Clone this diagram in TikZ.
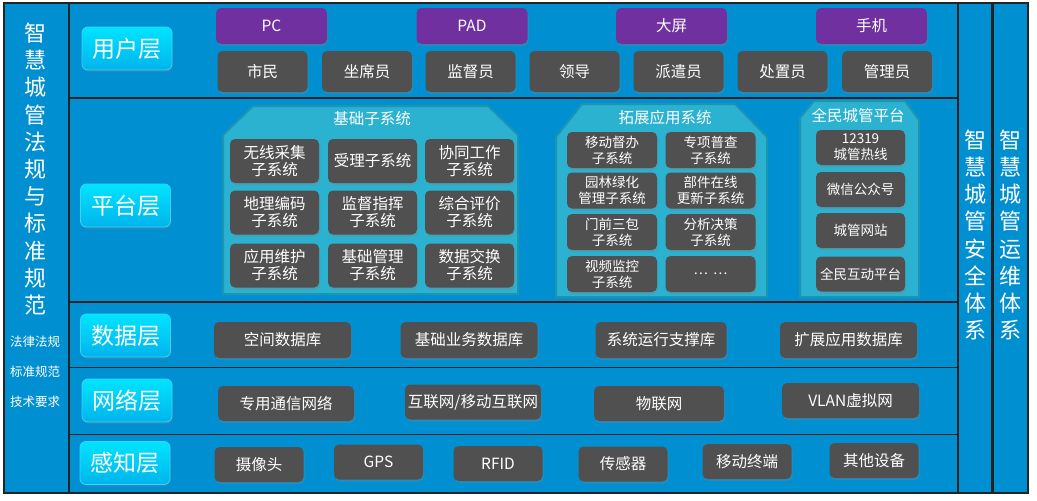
\documentclass[tikz,border=0pt]{standalone}
\usepackage{fontspec}
\setmainfont{Noto Sans CJK SC}
\usetikzlibrary{shadows}
\definecolor{bgblue}{RGB}{0,144,210}
\definecolor{boxgray}{RGB}{80,80,80}
\definecolor{devpurple}{RGB}{112,48,160}
\definecolor{subteal}{RGB}{42,178,208}
\definecolor{subedge}{RGB}{28,148,178}
\definecolor{btntop}{RGB}{0,228,255}
\definecolor{btnbot}{RGB}{0,180,236}
\definecolor{btnline}{RGB}{60,210,255}
\definecolor{framec}{RGB}{35,35,35}
\tikzset{
  gbox/.style={fill=boxgray, rounded corners=5pt, text=white, align=center, inner sep=0pt,
    font=\fontsize{15.5}{17}\selectfont, drop shadow={shadow xshift=1pt, shadow yshift=-2pt, opacity=.35}},
  sbox/.style={gbox, font=\fontsize{13.5}{16}\selectfont},
  pbox/.style={gbox, fill=devpurple, minimum width=111pt, minimum height=36pt},
  layerbtn/.style={rounded corners=6pt, top color=btntop, bottom color=btnbot, draw=btnline, line width=.8pt,
    minimum width=90pt, minimum height=43pt, text=white, font=\fontsize{23}{23}\selectfont,
    drop shadow={shadow xshift=1pt, shadow yshift=-2pt, opacity=.3}},
  subsys/.style={fill=subteal, draw=subedge, line width=2pt},
  vtext/.style={text=white, align=center, font=\fontsize{22}{27.2}\selectfont}
}
\begin{document}
\begin{tikzpicture}[x=1pt, y=-1pt]
	\useasboundingbox[fill=white] (0,0) rectangle (1037,501);
	\draw[framec, line width=1.5pt, fill=bgblue] (4,3) rectangle (69,493);
	\draw[framec, line width=1.5pt, fill=bgblue] (69,3) rectangle (958,493);
	\draw[framec, line width=1.5pt, fill=bgblue] (958,3) rectangle (992,493);
	\draw[framec, line width=1.5pt, fill=bgblue] (993.5,3) rectangle (1028,493);
	\draw[framec, line width=1.2pt] (69,98) -- (958,98);
	\draw[framec, line width=2pt] (69,302) -- (958,302);
	\draw[framec, line width=1pt] (69,367.5) -- (958,367.5);
	\draw[framec, line width=1.2pt] (69,434.5) -- (958,434.5);
	% side columns
	\node[vtext] (lawtitle) at (35,169) {智\\慧\\城\\管\\法\\规\\与\\标\\准\\规\\范};
	\node[text=white, font=\fontsize{12.5}{12.5}\selectfont] (law1) at (35,342) {法律法规};
	\node[text=white, font=\fontsize{12.5}{12.5}\selectfont] (law2) at (35,372) {标准规范};
	\node[text=white, font=\fontsize{12.5}{12.5}\selectfont] (law3) at (35,402) {技术要求};
	\node[vtext, font=\fontsize{22}{27.1}\selectfont] (safety) at (975,235) {智\\慧\\城\\管\\安\\全\\体\\系};
	\node[vtext, font=\fontsize{22}{27.1}\selectfont] (ops) at (1010.5,235) {智\\慧\\城\\管\\运\\维\\体\\系};
	% layer labels
	\node[layerbtn] (user) at (127,48.5) {用户层};
	\node[layerbtn] (platform) at (125.5,205.5) {平台层};
	\node[layerbtn] (data) at (125.5,335.5) {数据层};
	\node[layerbtn] (net) at (127,400.5) {网络层};
	\node[layerbtn] (sense) at (125,463) {感知层};
	% user layer
	\foreach \x/\t [count=\i] in {271.5/PC, 472/PAD, 671.5/大屏, 871.5/手机}
	  \node[pbox] (term\i) at (\x,26) {\t};
	\foreach \x/\t [count=\i] in {262.5/市民, 367/坐席员, 470.5/监督员, 574.5/领导, 678.5/派遣员, 782.5/处置员, 887/管理员}
	  \node[gbox, minimum width=90pt, minimum height=41pt] (role\i) at (\x,71.5) {\t};
	% platform layer
	\draw[subsys] (223,135) -- (253,106) -- (488,106) -- (518,135) -- (518,294) -- (223,294) -- cycle;
	\node[text=white, font=\fontsize{15.5}{15.5}\selectfont] (basetitle) at (372,119) {基础子系统};
	\foreach \x/\y/\t [count=\i] in {274.5/161/无线采集\\子系统, 372.5/161/受理子系统, 469.5/161/协同工作\\子系统,
	    274.5/212.5/地理编码\\子系统, 372.5/212.5/监督指挥\\子系统, 469.5/212.5/综合评价\\子系统,
	    274.5/265.5/应用维护\\子系统, 372.5/265.5/基础管理\\子系统, 469.5/265.5/数据交换\\子系统}
	  \node[gbox, minimum width=89pt, minimum height=44pt] (base\i) at (\x,\y) {\t};
	\draw[subsys] (556,137) -- (582,104) -- (735,104) -- (767,137) -- (767,297) -- (556,297) -- cycle;
	\node[text=white, font=\fontsize{15.5}{15.5}\selectfont] (exttitle) at (665,118) {拓展应用系统};
	\foreach \x/\y/\t [count=\i] in {612/150/移动督办\\子系统, 710.5/150/专项普查\\子系统,
	    612/190.5/园林绿化\\管理子系统, 710.5/190.5/部件在线\\更新子系统,
	    612/232/门前三包\\子系统, 710.5/232/分析决策\\子系统,
	    612/274/视频监控\\子系统, 710.5/274/…\hspace{5pt}…}
	  \node[sbox, minimum width=90pt, minimum height=36pt] (ext\i) at (\x,\y) {\t};
	\draw[subsys] (800,118) -- (814,101) -- (905,101) -- (919,120) -- (919,297) -- (800,297) -- cycle;
	\node[text=white, font=\fontsize{15.5}{15.5}\selectfont] (pubtitle) at (858,116) {全民城管平台};
	\foreach \y/\t [count=\i] in {147.5/12319\\城管热线, 189.5/微信公众号, 230.5/城管网站, 274/全民互动平台}
	  \node[sbox, minimum width=89pt, minimum height=35pt] (pub\i) at (860.5,\y) {\t};
	% data layer
	\foreach \x/\w/\t [count=\i] in {282.5/137/空间数据库, 469/137/基础业务数据库, 661/131/系统运行支撑库, 848.5/137/扩展应用数据库}
	  \node[gbox, minimum width=\w pt, minimum height=36pt] (db\i) at (\x,340) {\t};
	% network layer
	\foreach \x/\y/\w/\t [count=\i] in {286/403.5/136/专用通信网络, 473/402/136/{互联网/移动互联网}, 659/403.5/130/物联网, 850.5/400.5/137/VLAN虚拟网}
	  \node[gbox, minimum width=\w pt, minimum height=35pt] (nw\i) at (\x,\y) {\t};
	% sensing layer
	\foreach \x/\y/\t [count=\i] in {259/464.5/摄像头, 378.5/462/GPS, 498/463.5/RFID, 623/464/传感器, 747/461.5/移动终端, 874/460.5/其他设备}
	  \node[gbox, minimum width=89pt, minimum height=35pt] (sens\i) at (\x,\y) {\t};
\end{tikzpicture}
\end{document}
